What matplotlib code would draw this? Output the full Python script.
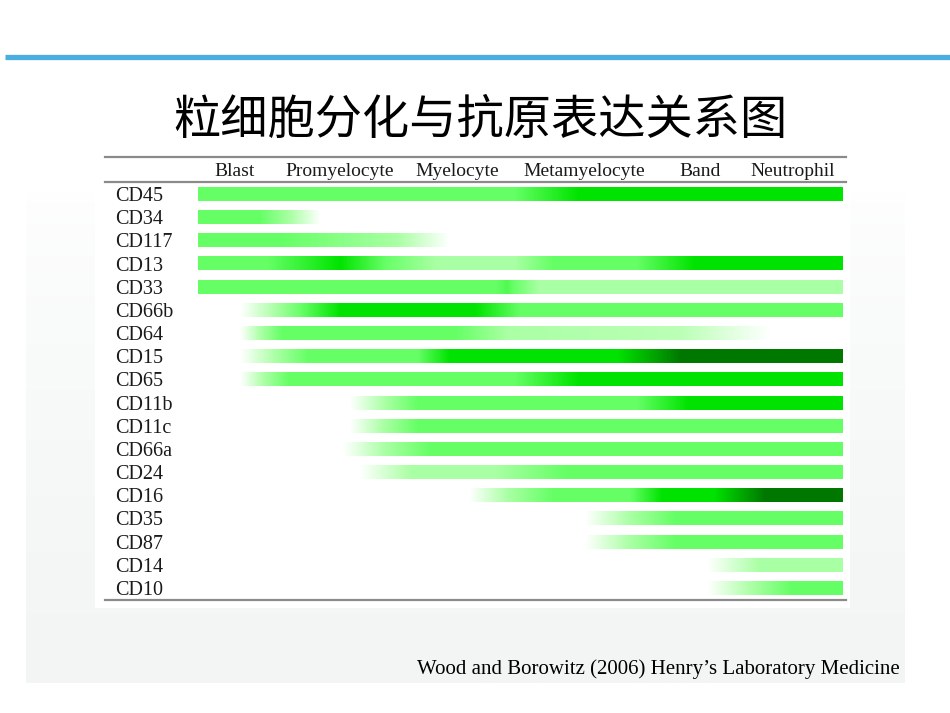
import numpy as np
import matplotlib
matplotlib.use("Agg")
import matplotlib.pyplot as plt
from matplotlib.colors import LinearSegmentedColormap
from matplotlib.patches import Rectangle

# stages of granulocyte maturation (column headers)
stages = ["Blast", "Promyelocyte", "Myelocyte", "Metamyelocyte", "Band", "Neutrophil"]
stage_x = [5.7, 22.0, 40.2, 59.8, 77.8, 92.2]   # header centres, % of maturation axis

markers = ["CD45", "CD34", "CD117", "CD13", "CD33", "CD66b", "CD64", "CD15", "CD65",
           "CD11b", "CD11c", "CD66a", "CD24", "CD16", "CD35", "CD87", "CD14", "CD10"]

# expression profiles: (position along maturation axis in %, level)
# level 0 = negative, 1 = dim, 2 = moderate, 3 = bright, 4 = very bright
CD45 = [(0, 2), (49, 2), (59, 3), (100, 3)]
CD34 = [(0, 2), (9.6, 2), (19, 0), (100, 0)]
CD117 = [(0, 2), (13, 2), (31, 1), (39, 0), (100, 0)]
CD13 = [(0, 2), (10.7, 2), (22, 3), (29, 2), (37, 1), (49, 1), (55, 2), (68, 2), (77, 3), (100, 3)]
CD33 = [(0, 2), (46, 2), (48, 2.2), (53, 1), (100, 1)]
CD66b = [(0, 0), (6.5, 0), (12, 1), (16, 2), (22, 3), (43, 3), (50, 2), (100, 2)]
CD64 = [(0, 0), (6.5, 0), (13, 2), (40, 2), (48, 1), (75, 0.8), (89, 0), (100, 0)]
CD15 = [(0, 0), (6.5, 0), (12, 1), (17, 2), (34, 2), (39, 3), (65, 3), (75, 4), (100, 4)]
CD65 = [(0, 0), (6.5, 0), (14, 2), (49, 2), (59, 3), (100, 3)]
CD11b = [(0, 0), (23.5, 0), (29, 1), (34, 2), (68, 2), (76, 3), (100, 3)]
CD11c = [(0, 0), (23.5, 0), (34, 2), (100, 2)]
CD66a = [(0, 0), (22.5, 0), (29, 1), (36, 2), (100, 2)]
CD24 = [(0, 0), (25, 0), (33, 1), (46, 1), (57, 2), (100, 2)]
CD16 = [(0, 0), (42, 0), (48, 1), (55, 2), (67, 2), (72, 3), (80, 3), (88, 4), (100, 4)]
CD35 = [(0, 0), (60, 0), (67, 1), (74, 2), (100, 2)]
CD87 = [(0, 0), (60, 0), (67, 1), (74, 2), (100, 2)]
CD14 = [(0, 0), (79, 0), (87, 1), (100, 1)]
CD10 = [(0, 0), (79, 0), (86, 1), (92, 2), (100, 2)]

profiles = [CD45, CD34, CD117, CD13, CD33, CD66b, CD64, CD15, CD65,
            CD11b, CD11c, CD66a, CD24, CD16, CD35, CD87, CD14, CD10]

title = "粒细胞分化与抗原表达关系图"
citation = "Wood and Borowitz (2006) Henry\u2019s Laboratory Medicine"

level_cmap = LinearSegmentedColormap.from_list(
    "expr", [(0, "#ffffff"), (0.25, "#aaffa4"), (0.5, "#66ff66"), (0.75, "#00e400"), (1, "#007800")])

W, H = 950, 713
fig = plt.figure(figsize=(W / 100, H / 100), dpi=100)
fig.patch.set_facecolor("white")

# background layer in pixel coordinates (y down)
bg = fig.add_axes([0, 0, 1, 1], zorder=-1)
bg.set_xlim(0, W)
bg.set_ylim(H, 0)
bg.axis("off")

# faint photo backdrop, fading in from the top
fade = np.linspace(0, 1, 200) ** 0.6
bg.imshow(fade[:, None], cmap=LinearSegmentedColormap.from_list("bgf", ["#ffffff", "#f3f5f5"]),
          extent=(26, 905, 683, 190), aspect="auto", vmin=0, vmax=1, zorder=0)
bg.add_patch(Rectangle((95, 150), 755, 458, facecolor="white", edgecolor="none", zorder=1))

# blue rule at top of slide
bg.plot([5, W], [57, 57], color="#4aaee0", lw=3.8, solid_capstyle="butt", zorder=2)

bg.text(480, 121, title, ha="center", va="center", fontsize=34,
        family=["Noto Sans CJK SC", "DejaVu Sans"], color="black")

bg.text(900, 669, citation, ha="right", va="center", fontsize=15,
        family="Liberation Serif", color="black")

bg.set_xlim(0, W)
bg.set_ylim(H, 0)

# main axes: x 0..100 spans the bars, rows are markers
ax = fig.add_axes([198 / W, 1 - 600 / H, 645 / W, 418 / H])
ax.set_facecolor("none")
n = len(markers)
pitch = (588 - 194) / (n - 1)
y_top = (182 - 194) / pitch
y_bot = (600 - 194) / pitch
bar_h = 0.6

xs = np.linspace(0, 100, 1000)
for i, prof in enumerate(profiles):
    pos = [p for p, _ in prof]
    lvl = [v for _, v in prof]
    vals = np.interp(xs, pos, lvl)
    ax.imshow(vals[None, :], cmap=level_cmap, vmin=0, vmax=4, aspect="auto",
              extent=(0, 100, i + bar_h / 2, i - bar_h / 2), interpolation="bilinear")

ax.set_xlim(0, 100)
ax.set_ylim(y_bot, y_top)
ax.axis("off")

serif = "Liberation Serif"
x_left = (105 - 198) / 6.45
x_right = (846 - 198) / 6.45
y_rule = (157 - 194) / pitch
for yy in (y_rule, y_top, y_bot):
    ax.plot([x_left, x_right], [yy, yy], color="#8a8a8a", lw=1.6, clip_on=False)

for i, m in enumerate(markers):
    ax.text((115 - 198) / 6.45, i, m, ha="left", va="center_baseline", fontsize=14.5,
            family=serif, color="#1a1a1a")

for sx, s in zip(stage_x, stages):
    ax.text(sx, (y_rule + y_top) / 2, s, ha="center", va="center_baseline", fontsize=14,
            family=serif, color="#1a1a1a")

fig.savefig("out.png", dpi=100)
